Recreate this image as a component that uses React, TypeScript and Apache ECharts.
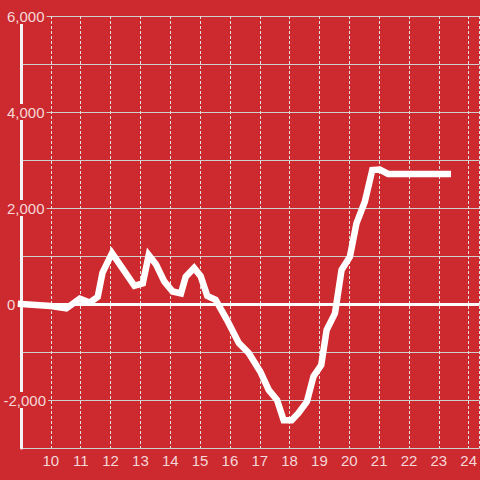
import React, { useEffect, useRef } from "react";
import * as echarts from "echarts";

const hours = [
  9.0, 10.0, 10.52, 10.97, 11.3, 11.57, 11.73, 12.05, 12.36, 12.8, 13.08, 13.28,
  13.52, 13.8, 14.08, 14.36, 14.52, 14.8, 15.02, 15.24, 15.52, 15.9, 16.3,
  16.63, 17.02, 17.3, 17.58, 17.8, 18.07, 18.3, 18.58, 18.8, 19.06, 19.24,
  19.52, 19.74, 20.02, 20.24, 20.52, 20.77, 21.02, 21.3, 23.3,
];
const values = [
  0, -40, -90, 110, 30, 150, 650, 1060, 780, 380, 430, 1020, 830, 470, 260, 220,
  570, 750, 580, 170, 90, -330, -815, -1020, -1410, -1790, -2000, -2420, -2420,
  -2270, -2035, -1510, -1270, -540, -195, 710, 985, 1680, 2130, 2790, 2800,
  2710, 2710,
];
const yLabelStep = 2000;

const BG = "#cc2a2f";
const TEXT = "rgba(255,255,255,0.82)";

function fmt(v: number): string {
  const s = Math.abs(v).toString().replace(/\B(?=(\d{3})+(?!\d))/g, ",");
  return v < 0 ? "-" + s : s;
}

export default function App() {
  const ref = useRef<HTMLDivElement>(null);
  useEffect(() => {
    if (!ref.current) return;
    const chart = echarts.init(ref.current, undefined, { renderer: "svg" });
    const data = hours.map((h, i) => [h, values[i]]);
    chart.setOption({
      animation: false,
      backgroundColor: BG,
      grid: { left: 20, right: -1, top: 16, bottom: 32, containLabel: false },
      xAxis: {
        type: "value",
        min: 9,
        max: 9 + 461 / 30,
        interval: 1,
        axisLine: { show: false },
        axisTick: { show: false },
        axisLabel: {
          color: TEXT,
          fontSize: 15,
          fontFamily: "Liberation Sans, Arial, sans-serif",
          margin: 5,
          showMinLabel: false,
          showMaxLabel: false,
          formatter: (v: number) => (Number.isInteger(v) ? String(v) : ""),
        },
        splitLine: {
          show: true,
          lineStyle: { color: "#e2e2e2", width: 1, type: [3, 2] },
        },
      },
      yAxis: {
        type: "value",
        min: -3000,
        max: 6000,
        interval: 1000,
        axisLine: { show: true, lineStyle: { color: "#f4f4f4", width: 3 } },
        axisTick: { show: false },
        axisLabel: {
          align: "left",
          margin: 18,
          fontFamily: "Liberation Sans, Arial, sans-serif",
          formatter: (v: number) => {
            if (v % yLabelStep !== 0) return "";
            return v < 0 ? `{n|${fmt(v)}}` : `{p|${fmt(v)}}`;
          },
          rich: {
            p: {
              color: TEXT,
              fontSize: 15,
              lineHeight: 15,
              fontFamily: "Liberation Sans, Arial, sans-serif",
              backgroundColor: BG,
              padding: [1, 2, 0, 4],
            },
            n: {
              color: TEXT,
              fontSize: 15,
              lineHeight: 15,
              fontFamily: "Liberation Sans, Arial, sans-serif",
              backgroundColor: BG,
              padding: [1, 2, 0, 0.5],
            },
          },
        },
        splitLine: {
          show: true,
          lineStyle: { color: "#cfcfcf", width: 1 },
        },
      },
      series: [
        {
          type: "line",
          data,
          showSymbol: false,
          symbol: "none",
          clip: false,
          lineStyle: { color: "#ffffff", width: 6.5, cap: "square", join: "miter" },
          markLine: {
            silent: true,
            symbol: "none",
            label: { show: false },
            lineStyle: { color: "#ffffff", width: 3, type: "solid" },
            data: [{ yAxis: 0 }],
          },
          z: 3,
        },
      ],
    });
    return () => chart.dispose();
  }, []);
  return (
    <div
      ref={ref}
      style={{ position: "fixed", left: 0, top: 0, width: 480, height: 480 }}
    />
  );
}
